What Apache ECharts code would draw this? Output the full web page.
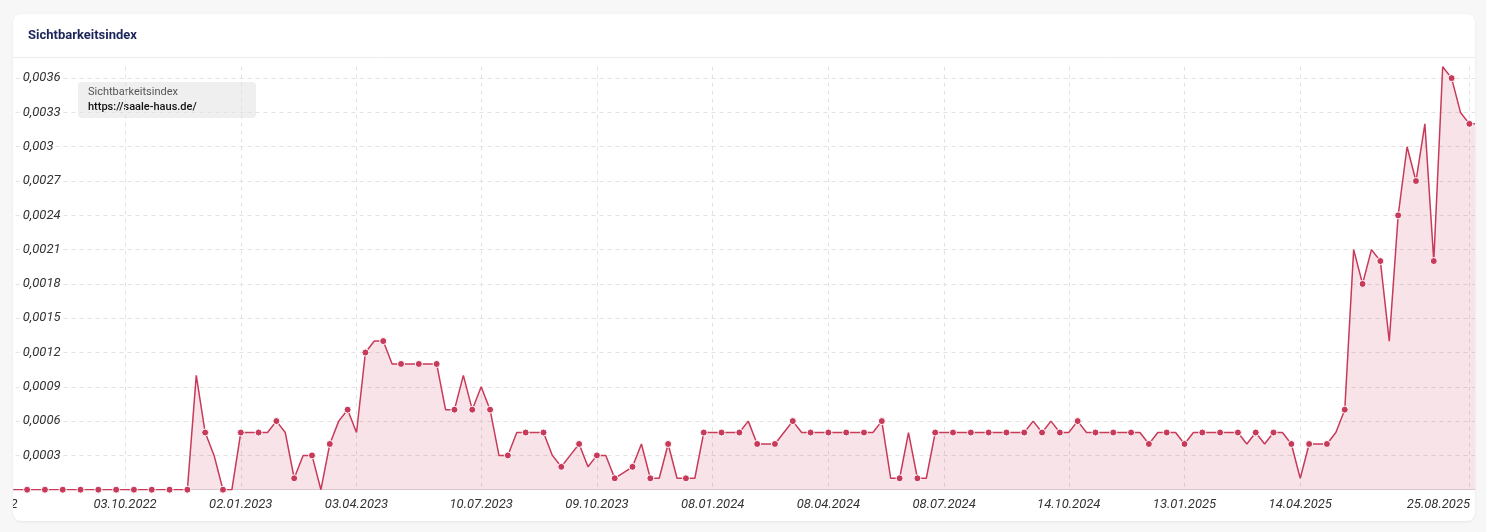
<!DOCTYPE html>
<html>
<head>
<meta charset="utf-8">
<script src="https://cdn.jsdelivr.net/npm/echarts@6/dist/echarts.min.js"></script>
<style>
  html, body { margin: 0; padding: 0; background: #f7f7f7; width: 1486px; height: 532px; overflow: hidden; }
  #card { position: absolute; left: 13px; top: 14px; width: 1462px; height: 507px; background: #fff;
          border-radius: 8px; box-shadow: 0 1px 3px rgba(0,0,0,0.07); overflow: hidden; }
  #chart { position: absolute; left: 0; top: 0; width: 1462px; height: 507px; }
</style>
</head>
<body>
<div id="card"><div id="chart"></div></div>
<script>
// ---- data ----
const chartTitle = 'Sichtbarkeitsindex';
const seriesName = 'Sichtbarkeitsindex';
const domain = 'https://saale-haus.de/';
const firstWeek = '2022-06-20'; // weekly categories (Mondays)
const values = [
  0, 0, 0, 0, 0, 0, 0, 0, 0, 0, 0, 0, 0, 0, 0, 0, 0, 0, 0, 0, 0, 0, 0,
  0.001, 0.0005, 0.0003, 0, 0, 0.0005, 0.0005, 0.0005, 0.0005, 0.0006, 0.0005,
  0.0001, 0.0003, 0.0003, 0, 0.0004, 0.0006, 0.0007, 0.0005, 0.0012, 0.0013, 0.0013,
  0.0011, 0.0011, 0.0011, 0.0011, 0.0011, 0.0011,
  0.0007, 0.0007, 0.001, 0.0007, 0.0009, 0.0007, 0.0003, 0.0003,
  0.0005, 0.0005, 0.0005, 0.0005, 0.0003, 0.0002, 0.0003, 0.0004, 0.0002, 0.0003, 0.0003,
  0.0001, 0.00015, 0.0002, 0.0004, 0.0001, 0.0001, 0.0004, 0.0001, 0.0001, 0.0001,
  0.0005, 0.0005, 0.0005, 0.0005, 0.0005, 0.0006, 0.0004, 0.0004, 0.0004, 0.0005, 0.0006,
  0.0005, 0.0005, 0.0005, 0.0005, 0.0005, 0.0005, 0.0005, 0.0005, 0.0005,
  0.0006, 0.0001, 0.0001, 0.0005, 0.0001, 0.0001,
  0.0005, 0.0005, 0.0005, 0.0005, 0.0005, 0.0005, 0.0005, 0.0005, 0.0005, 0.0005, 0.0005,
  0.0006, 0.0005, 0.0006, 0.0005, 0.0005, 0.0006,
  0.0005, 0.0005, 0.0005, 0.0005, 0.0005, 0.0005, 0.0005,
  0.0004, 0.0005, 0.0005, 0.0005, 0.0004,
  0.0005, 0.0005, 0.0005, 0.0005, 0.0005, 0.0005,
  0.0004, 0.0005, 0.0004, 0.0005, 0.0005, 0.0004, 0.0001, 0.0004, 0.0004, 0.0004,
  0.0005, 0.0007, 0.0021, 0.0018, 0.0021, 0.002, 0.0013, 0.0024, 0.003, 0.0027,
  0.0032, 0.002, 0.0037, 0.0036, 0.0033, 0.0032, 0.0032
];
const tickLabels = ['20.06.2022', '03.10.2022', '02.01.2023', '03.04.2023', '10.07.2023', '09.10.2023',
  '08.01.2024', '08.04.2024', '08.07.2024', '14.10.2024', '13.01.2025', '14.04.2025', '25.08.2025'];
const yMax = 0.0037;
const yStep = 0.0003;

// weekly date categories
function fmtDate(d) {
  const p = n => String(n).padStart(2, '0');
  return p(d.getUTCDate()) + '.' + p(d.getUTCMonth() + 1) + '.' + d.getUTCFullYear();
}
const categories = [];
{
  const d0 = new Date(firstWeek + 'T00:00:00Z');
  for (let i = 0; i < values.length; i++) {
    categories.push(fmtDate(new Date(d0.getTime() + i * 7 * 86400000)));
  }
}
const tickSet = new Set(tickLabels);
const showTick = (idx, val) => tickSet.has(val);
const firstTick = tickLabels[0];
const lastTick = tickLabels[tickLabels.length - 1];

const lineColor = '#c73a5a';
const lblStyle = { fontSize: 13, fontStyle: 'italic', color: '#333' };
const chart = echarts.init(document.getElementById('chart'), null, { renderer: 'canvas' });
chart.setOption({
  animation: false,
  textStyle: { fontFamily: 'Roboto, "Noto Sans", sans-serif' },
  title: {
    text: chartTitle, left: 15, top: 15, padding: 0,
    textStyle: { fontSize: 13, fontWeight: 'bold', color: '#1b2559', fontFamily: 'Roboto, sans-serif' }
  },
  graphic: [
    { type: 'line', shape: { x1: 0, y1: 43.5, x2: 1462, y2: 43.5 }, style: { stroke: '#ececec', lineWidth: 1 }, z: 10 },
    {
      type: 'group', left: 65, top: 68, z: 100,
      children: [
        { type: 'rect', shape: { x: 0, y: 0, width: 178, height: 36, r: 4 }, style: { fill: '#efefef' } },
        { type: 'text', x: 10, y: 10, style: { text: seriesName, fill: '#555', font: '11px Roboto, sans-serif', verticalAlign: 'middle' } },
        { type: 'text', x: 10, y: 25, style: { text: domain, fill: '#111', font: '500 11px Roboto, sans-serif', verticalAlign: 'middle' } }
      ]
    }
  ],
  grid: { left: -21.5, right: -3.3, top: 52.7, bottom: 31.3, containLabel: false, outerBoundsMode: 'none' },
  xAxis: {
    type: 'category',
    data: categories,
    boundaryGap: false,
    axisLine: { lineStyle: { color: '#d9d9d9', width: 1 } },
    axisTick: { show: false, interval: showTick },
    axisLabel: {
      interval: showTick, margin: 9, fontSize: 13, fontStyle: 'italic', color: '#333',
      hideOverlap: false,
      formatter: v => v === firstTick ? '{first|' + v + '}' : (v === lastTick ? '{last|' + v + '}' : v),
      rich: {
        first: Object.assign({ padding: [0, 11, 0, 0] }, lblStyle),
        last: Object.assign({ padding: [0, 62, 0, 0] }, lblStyle)
      }
    },
    splitLine: { show: true, interval: showTick, lineStyle: { color: '#e2e2e2', type: [4, 4], width: 1 } }
  },
  yAxis: {
    type: 'value', min: 0, max: yMax, interval: yStep,
    axisLine: { show: false }, axisTick: { show: false },
    axisLabel: {
      inside: true, margin: 31.2, fontSize: 13, fontStyle: 'italic', color: '#333',
      showMinLabel: false, showMaxLabel: false,
      formatter: v => String(+v.toFixed(4)).replace('.', ',')
    },
    splitLine: { show: true, showMaxLine: false, showMinLine: false, lineStyle: { color: '#e2e2e2', type: [4, 4], width: 1 } }
  },
  series: [{
    name: seriesName,
    type: 'line',
    data: values,
    showAllSymbol: true,
    symbol: 'circle',
    symbolSize: (val, params) => (params.dataIndex % 2 === 0 ? 7 : 0),
    lineStyle: { color: lineColor, width: 1.5 },
    itemStyle: { color: lineColor, borderColor: '#fff', borderWidth: 1 },
    areaStyle: { color: 'rgba(199,58,90,0.2)' },
    emphasis: { disabled: true },
    z: 5
  }]
});
</script>
</body>
</html>
